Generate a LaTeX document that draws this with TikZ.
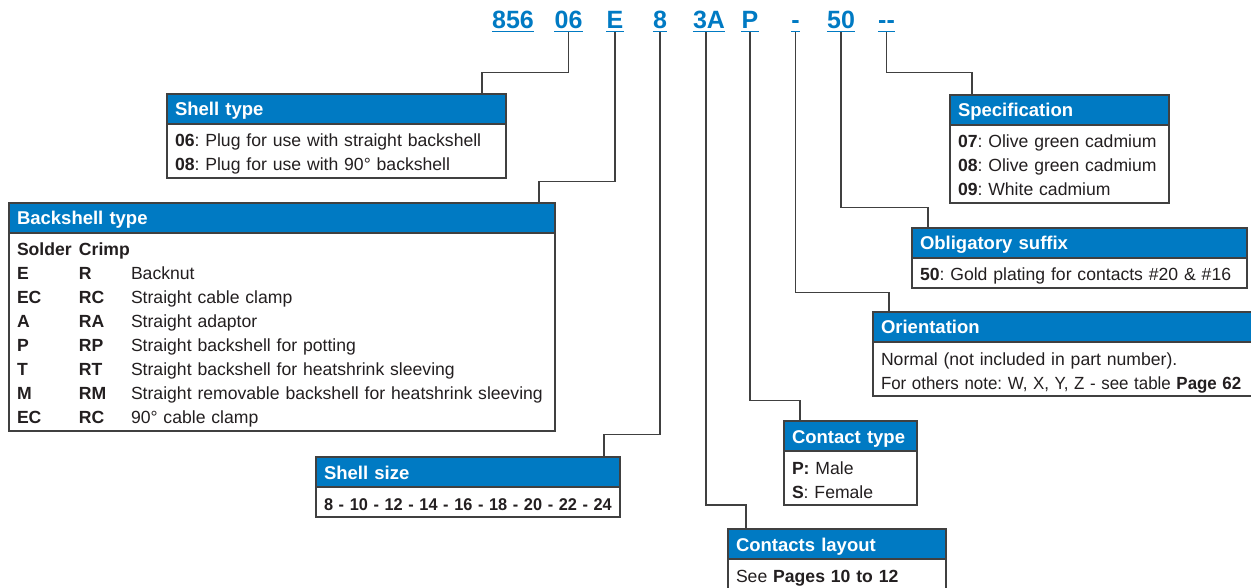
\documentclass[tikz,border=0pt]{standalone}
\usepackage{fontspec}
\setmainfont{Liberation Sans}
\usepackage{xcolor}
\usepackage{graphicx}
\usepackage{tikz}

\definecolor{catblue}{RGB}{0,122,195}
\definecolor{framegray}{RGB}{64,64,64}
\definecolor{inkgray}{RGB}{35,31,32}

\frenchspacing
\newcommand{\rowstrut}{\rule[-4pt]{0pt}{24pt}}
\newcommand{\bline}[1]{\rowstrut\mbox{#1}}
\newcommand{\nline}[1]{\rowstrut\scalebox{0.96}[1]{#1}}
\newcommand{\bsrow}[3]{\rowstrut\mbox{\makebox[62pt][l]{\textbf{#1}}\makebox[52pt][l]{\textbf{#2}}#3}}

\tikzset{
  hdr/.style={draw=framegray, line width=1.3pt, fill=catblue, text=white,
    font=\fontsize{18.5}{22}\selectfont\bfseries, anchor=north west, outer sep=0pt,
    inner xsep=8pt, inner ysep=4pt, text height=18pt, text depth=4pt,
    text width=#1, align=left},
  bdy/.style={draw=framegray, line width=1.3pt, fill=white, text=inkgray,
    font=\fontsize{17.6}{24}\selectfont, anchor=north west, outer sep=0pt,
    inner xsep=8pt, inner ysep=3pt, text width=#1, align=left},
  pn/.style={text=catblue, font=\fontsize{25}{30}\selectfont\bfseries,
    anchor=base, inner sep=0pt},
  uline/.style={draw=catblue, line width=1.5pt},
  lead/.style={draw=framegray, line width=1.2pt}
}

\begin{document}
\begin{tikzpicture}[x=1pt,y=-1pt]
  \useasboundingbox (0,0) rectangle (1251,588);
  % --- part number
  \node[pn] (pn856)  at (513,29)   {856};
  \node[pn] (pn06)   at (568.5,29) {06};
  \node[pn] (pnE)    at (615,29)   {E};
  \node[pn] (pn8)    at (660,29)   {8};
  \node[pn] (pn3A)   at (709,29)   {3A};
  \node[pn] (pnP)    at (750,29)   {P};
  \node[pn] (pnOr)   at (795.5,29) {-};
  \node[pn] (pn50)   at (841,29)   {50};
  \node[pn] (pnSpec) at (886.5,29) {-{}-};
  \foreach \p in {pn856,pn06,pnE,pn8,pn3A,pnP,pnOr,pn50,pnSpec}
    \draw[uline] ([yshift=-2.5pt]\p.base west) -- ([yshift=-2.5pt]\p.base east);

  % --- boxes
  \node[hdr=323pt] (shellH) at (167,94) {Shell type};
  \node[bdy=323pt] (shellB) at (shellH.south west)
    {\bline{\textbf{06}: Plug for use with straight backshell}\\
     \bline{\textbf{08}: Plug for use with 90° backshell}};

  \node[hdr=530pt] (backH) at (9,203) {Backshell type};
  \node[bdy=530pt] (backB) at (backH.south west)
    {\bsrow{Solder}{Crimp}{}\\
     \bsrow{E}{R}{Backnut}\\
     \bsrow{EC}{RC}{Straight cable clamp}\\
     \bsrow{A}{RA}{Straight adaptor}\\
     \bsrow{P}{RP}{Straight backshell for potting}\\
     \bsrow{T}{RT}{Straight backshell for heatshrink sleeving}\\
     \bsrow{M}{RM}{Straight removable backshell for heatshrink sleeving}\\
     \bsrow{EC}{RC}{90° cable clamp}};

  \node[hdr=288pt] (sizeH) at (316,457) {Shell size};
  \node[bdy=288pt] (sizeB) at (sizeH.south west)
    {\nline{\fontsize{17}{24}\selectfont\textbf{8 - 10 - 12 - 14 - 16 - 18 - 20 - 22 - 24}}};

  \node[hdr=202pt] (layoutH) at (728,529) {Contacts layout};
  \node[bdy=202pt] (layoutB) at (layoutH.south west)
    {\bline{See \textbf{Pages 10 to 12}}};

  \node[hdr=117pt] (ctypeH) at (784,421) {Contact type};
  \node[bdy=117pt] (ctypeB) at (ctypeH.south west)
    {\bline{\textbf{P:} Male}\\
     \bline{\textbf{S}: Female}};

  \node[hdr=384pt] (orientH) at (873,312) {Orientation};
  \node[bdy=384pt] (orientB) at (orientH.south west)
    {\bline{Normal (not included in part number).}\\
     \nline{For others note: W, X, Y, Z - see table \textbf{Page 62}}};

  \node[hdr=319pt] (suffixH) at (912,228) {Obligatory suffix};
  \node[bdy=319pt] (suffixB) at (suffixH.south west)
    {\bline{\textbf{50}: Gold plating for contacts \#20 \& \#16}};

  \node[hdr=203pt] (specH) at (950,95) {Specification};
  \node[bdy=203pt] (specB) at (specH.south west)
    {\bline{\textbf{07}: Olive green cadmium}\\
     \bline{\textbf{08}: Olive green cadmium}\\
     \bline{\textbf{09}: White cadmium}};

  % --- leaders
  \draw[lead] ([yshift=-3.5pt]pn06.base) -- ([yshift=-3.5pt]pn06.base |- 0,69)
    -| ([xshift=315pt]shellH.north west);
  \draw[lead] ([yshift=-3.5pt]pnE.base) -- ([yshift=-3.5pt]pnE.base |- 0,178)
    -| ([xshift=530pt]backH.north west);
  \draw[lead] ([yshift=-3.5pt]pn8.base) -- ([yshift=-3.5pt]pn8.base |- 0,431)
    -| ([xshift=288pt]sizeH.north west);
  \draw[lead] ([xshift=-3pt,yshift=-3.5pt]pn3A.base) -- ([xshift=-3pt]pn3A.base |- 0,505)
    -| ([xshift=18pt]layoutH.north west);
  \draw[lead] ([yshift=-3.5pt]pnP.base) -- ([yshift=-3.5pt]pnP.base |- 0,397)
    -| ([xshift=16pt]ctypeH.north west);
  \draw[lead] ([yshift=-3.5pt]pnOr.base) -- ([yshift=-3.5pt]pnOr.base |- 0,289)
    -| ([xshift=16pt]orientH.north west);
  \draw[lead] ([yshift=-3.5pt]pn50.base) -- ([yshift=-3.5pt]pn50.base |- 0,204)
    -| ([xshift=16pt]suffixH.north west);
  \draw[lead] ([yshift=-3.5pt]pnSpec.base) -- ([yshift=-3.5pt]pnSpec.base |- 0,69)
    -| ([xshift=22pt]specH.north west);
\end{tikzpicture}
\end{document}
